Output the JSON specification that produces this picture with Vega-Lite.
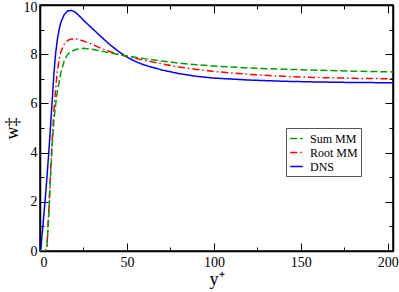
{
  "$schema": "https://vega.github.io/schema/vega-lite/v6.json",
  "width": 353,
  "height": 246,
  "autosize": {"type": "none"},
  "padding": {"left": 40, "top": 5, "right": 6, "bottom": 41},
  "background": "white",
  "config": {
    "view": {"stroke": "black", "strokeWidth": 1.5},
    "font": "Liberation Serif",
    "axis": {"grid": false, "domainColor": "black", "domainWidth": 1.5, "tickColor": "black", "tickWidth": 1, "labelColor": "black", "labelFont": "Liberation Serif", "labelFontSize": 14, "titleFont": "Liberation Serif", "titleFontWeight": "normal", "titleColor": "black"},
    "legend": {"labelFont": "Liberation Serif"}
  },
  "datasets": {
    "curves": [
      {"s": "DNS", "x": 0.4, "y": 0},
      {"s": "DNS", "x": 1, "y": 0.5},
      {"s": "DNS", "x": 2, "y": 1.3},
      {"s": "DNS", "x": 3, "y": 2.1},
      {"s": "DNS", "x": 4, "y": 3.0},
      {"s": "DNS", "x": 5, "y": 3.95},
      {"s": "DNS", "x": 6, "y": 5.0},
      {"s": "DNS", "x": 7, "y": 6.1},
      {"s": "DNS", "x": 8, "y": 7.2},
      {"s": "DNS", "x": 9, "y": 8.05},
      {"s": "DNS", "x": 10, "y": 8.6},
      {"s": "DNS", "x": 11, "y": 9.0},
      {"s": "DNS", "x": 12, "y": 9.3},
      {"s": "DNS", "x": 14, "y": 9.62},
      {"s": "DNS", "x": 16, "y": 9.76},
      {"s": "DNS", "x": 18, "y": 9.78},
      {"s": "DNS", "x": 20, "y": 9.72},
      {"s": "DNS", "x": 22, "y": 9.6},
      {"s": "DNS", "x": 25, "y": 9.38},
      {"s": "DNS", "x": 30, "y": 9.05},
      {"s": "DNS", "x": 35, "y": 8.72},
      {"s": "DNS", "x": 40, "y": 8.4},
      {"s": "DNS", "x": 45, "y": 8.12},
      {"s": "DNS", "x": 50, "y": 7.88},
      {"s": "DNS", "x": 55, "y": 7.7},
      {"s": "DNS", "x": 60, "y": 7.56},
      {"s": "DNS", "x": 70, "y": 7.36},
      {"s": "DNS", "x": 80, "y": 7.21},
      {"s": "DNS", "x": 90, "y": 7.1},
      {"s": "DNS", "x": 100, "y": 7.03},
      {"s": "DNS", "x": 120, "y": 6.95},
      {"s": "DNS", "x": 140, "y": 6.9},
      {"s": "DNS", "x": 160, "y": 6.87},
      {"s": "DNS", "x": 180, "y": 6.85},
      {"s": "DNS", "x": 203, "y": 6.84},
      {"s": "Root MM", "x": 0, "y": 0},
      {"s": "Root MM", "x": 3, "y": 0},
      {"s": "Root MM", "x": 4, "y": 0.2},
      {"s": "Root MM", "x": 5, "y": 1.6},
      {"s": "Root MM", "x": 6, "y": 3.1},
      {"s": "Root MM", "x": 7, "y": 4.5},
      {"s": "Root MM", "x": 8, "y": 5.7},
      {"s": "Root MM", "x": 9, "y": 6.6},
      {"s": "Root MM", "x": 10, "y": 7.3},
      {"s": "Root MM", "x": 11, "y": 7.8},
      {"s": "Root MM", "x": 12, "y": 8.1},
      {"s": "Root MM", "x": 14, "y": 8.42},
      {"s": "Root MM", "x": 16, "y": 8.56},
      {"s": "Root MM", "x": 18, "y": 8.62},
      {"s": "Root MM", "x": 21, "y": 8.62},
      {"s": "Root MM", "x": 25, "y": 8.54},
      {"s": "Root MM", "x": 30, "y": 8.4},
      {"s": "Root MM", "x": 35, "y": 8.24},
      {"s": "Root MM", "x": 40, "y": 8.11},
      {"s": "Root MM", "x": 45, "y": 8.0},
      {"s": "Root MM", "x": 50, "y": 7.91},
      {"s": "Root MM", "x": 60, "y": 7.75},
      {"s": "Root MM", "x": 70, "y": 7.61},
      {"s": "Root MM", "x": 80, "y": 7.48},
      {"s": "Root MM", "x": 90, "y": 7.38},
      {"s": "Root MM", "x": 100, "y": 7.3},
      {"s": "Root MM", "x": 120, "y": 7.18},
      {"s": "Root MM", "x": 140, "y": 7.1},
      {"s": "Root MM", "x": 160, "y": 7.05},
      {"s": "Root MM", "x": 180, "y": 7.02},
      {"s": "Root MM", "x": 203, "y": 7.0},
      {"s": "Sum MM", "x": 0, "y": 0},
      {"s": "Sum MM", "x": 3, "y": 0},
      {"s": "Sum MM", "x": 4, "y": 0.15},
      {"s": "Sum MM", "x": 5, "y": 1.4},
      {"s": "Sum MM", "x": 6, "y": 2.9},
      {"s": "Sum MM", "x": 7, "y": 4.3},
      {"s": "Sum MM", "x": 8, "y": 5.3},
      {"s": "Sum MM", "x": 9, "y": 5.95},
      {"s": "Sum MM", "x": 10, "y": 6.5},
      {"s": "Sum MM", "x": 12, "y": 7.25},
      {"s": "Sum MM", "x": 14, "y": 7.75},
      {"s": "Sum MM", "x": 16, "y": 8.0},
      {"s": "Sum MM", "x": 18, "y": 8.12},
      {"s": "Sum MM", "x": 21, "y": 8.2},
      {"s": "Sum MM", "x": 25, "y": 8.24},
      {"s": "Sum MM", "x": 30, "y": 8.2},
      {"s": "Sum MM", "x": 35, "y": 8.13},
      {"s": "Sum MM", "x": 40, "y": 8.06},
      {"s": "Sum MM", "x": 45, "y": 7.99},
      {"s": "Sum MM", "x": 50, "y": 7.93},
      {"s": "Sum MM", "x": 60, "y": 7.82},
      {"s": "Sum MM", "x": 70, "y": 7.72},
      {"s": "Sum MM", "x": 80, "y": 7.64},
      {"s": "Sum MM", "x": 90, "y": 7.57},
      {"s": "Sum MM", "x": 100, "y": 7.52},
      {"s": "Sum MM", "x": 120, "y": 7.44},
      {"s": "Sum MM", "x": 140, "y": 7.39},
      {"s": "Sum MM", "x": 160, "y": 7.35},
      {"s": "Sum MM", "x": 180, "y": 7.31},
      {"s": "Sum MM", "x": 203, "y": 7.28}
    ]
  },
  "data": {"name": "curves"},
  "layer": [
    {
      "mark": {"type": "line", "strokeWidth": 1.5, "clip": true},
      "encoding": {
        "x": {"field": "x", "type": "quantitative", "scale": {"domain": [0, 203], "nice": false, "zero": false},
          "axis": {"orient": "bottom", "values": [0, 25, 50, 75, 100, 125, 150, 175, 200], "labelExpr": "datum.value % 50 === 0 ? datum.label : ''", "tickSize": {"condition": {"test": "datum.value % 50 === 0", "value": -8}, "value": -4}, "labelPadding": 12, "title": "y⁺", "titleFontSize": 18, "titlePadding": 1}},
        "y": {"field": "y", "type": "quantitative", "scale": {"domain": [0, 10], "nice": false},
          "axis": {"orient": "left", "values": [0, 1, 2, 3, 4, 5, 6, 7, 8, 9, 10], "labelExpr": "datum.value % 2 === 0 ? datum.label : ''", "tickSize": {"condition": {"test": "datum.value % 2 === 0", "value": -8}, "value": -4}, "labelPadding": 11, "labelOffset": {"condition": {"test": "datum.value === 10", "value": 2}, "value": 0}, "title": "w‡", "titleFontSize": 18, "titlePadding": 2}},
        "color": {"field": "s", "type": "nominal", "scale": {"domain": ["Sum MM", "Root MM", "DNS"], "range": ["#00a000", "#ff0000", "#0000ff"]},
          "legend": {"title": null, "orient": "none", "legendX": 246, "legendY": 123, "symbolType": "stroke", "symbolSize": 160, "symbolStrokeWidth": 1.5, "labelFontSize": 12, "labelColor": "black", "strokeColor": "#555555", "padding": 3, "rowPadding": 0, "labelOffset": 6, "fillColor": "white"}},
        "strokeDash": {"field": "s", "type": "nominal", "scale": {"domain": ["Sum MM", "Root MM", "DNS"], "range": [[7, 3], [7, 3, 1.5, 3], [1, 0]]}, "legend": {"title": null, "orient": "none", "legendX": 246, "legendY": 123}},
        "order": {"field": "x", "type": "quantitative"}
      }
    },
    {
      "mark": {"type": "point", "opacity": 0},
      "encoding": {
        "x": {"field": "x", "type": "quantitative", "axis": {"orient": "top", "values": [0, 25, 50, 75, 100, 125, 150, 175, 200], "labels": false, "title": null, "tickSize": {"condition": {"test": "datum.value % 50 === 0", "value": -8}, "value": -4}}},
        "y": {"field": "y", "type": "quantitative", "axis": {"orient": "right", "values": [0, 1, 2, 3, 4, 5, 6, 7, 8, 9, 10], "labels": false, "title": null, "tickSize": {"condition": {"test": "datum.value % 2 === 0", "value": -8}, "value": -4}}}
      }
    }
  ],
  "resolve": {"axis": {"x": "independent", "y": "independent"}}
}
